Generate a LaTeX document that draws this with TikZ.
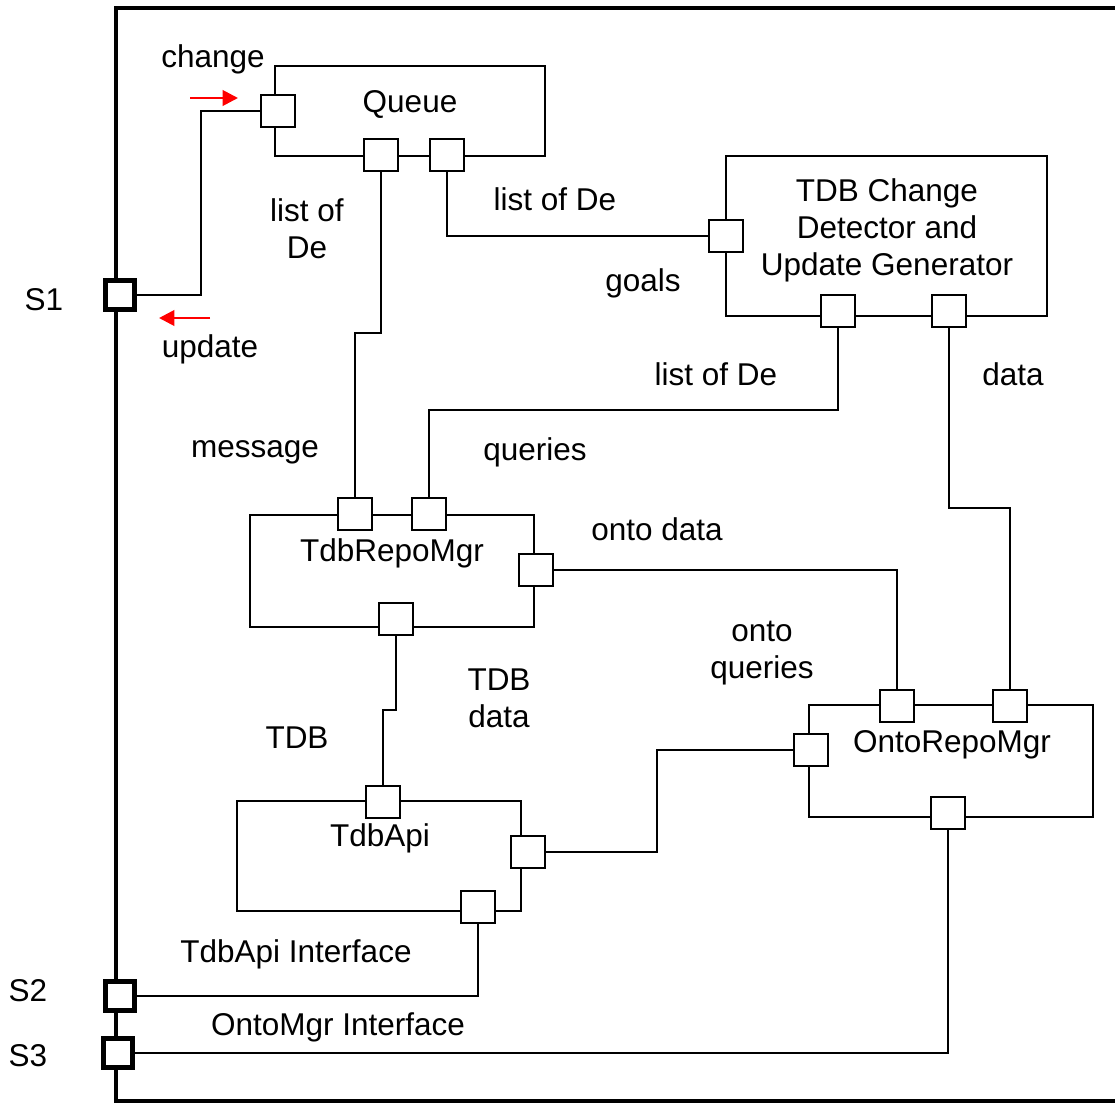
\documentclass[tikz,border=0pt]{standalone}
\usepackage{fontspec}
\setmainfont{Liberation Sans}
\usetikzlibrary{arrows.meta}

\tikzset{
  every node/.style={font=\fontsize{22.4}{26.3}\selectfont, align=center},
  lbl/.style={yshift=-1.8pt},
  wire/.style={line width=1.4pt},
  comp/.style={draw, line width=1.4pt, inner sep=0pt},
  port/.style={draw, fill=white, line width=1.4pt, inner sep=0pt, minimum width=0.85cm, minimum height=0.78cm},
  sport/.style={draw, fill=white, line width=3.4pt, inner sep=0pt, minimum size=0.72cm},
  flow/.style={red, line width=2pt, -{Triangle[length=11pt,width=11pt]}}
}

\begin{document}
\begin{tikzpicture}[x=0.025cm,y=-0.025cm]
		\useasboundingbox (0,0) rectangle (1115,1104);
		% outer frame
		\draw[line width=3.2pt](1115,8) -| (116,1101) -- (1115,1101);
		% components
		\node[comp, minimum width=6.75cm, minimum height=2.25cm](queue) at (410,111) {};
		\node[comp, minimum width=8.03cm, minimum height=4cm](detect) at (886.5,236) {};
		\node[comp, minimum width=7.1cm, minimum height=2.8cm](tdbrepo) at (392,571) {};
		\node[comp, minimum width=7.1cm, minimum height=2.75cm](tdbapi) at (379,856) {};
		\node[comp, minimum width=7.1cm, minimum height=2.8cm](ontorepo) at (951,761) {};
		\node[lbl](queuetxt) at (410,102) {Queue};
		\node[lbl](detecttxt) at (887,228) {TDB Change\\Detector and\\Update Generator};
		\node[lbl](tdbrepotxt) at (392,551) {TdbRepoMgr};
		\node[lbl](tdbapitxt) at (380,836) {TdbApi};
		\node[lbl](ontorepotxt) at (952,742) {OntoRepoMgr};
		% ports
		\node[port](qin) at (278,111) {};
		\node[port](qb1) at (381,155) {};
		\node[port](qb2) at (447,155) {};
		\node[port](din) at (726,236) {};
		\node[port](db1) at (838,311) {};
		\node[port](db2) at (949,311) {};
		\node[port](rt1) at (355,514) {};
		\node[port](rt2) at (429,514) {};
		\node[port](rr) at (536,570) {};
		\node[port](rb) at (396,619) {};
		\node[port](at) at (383,802) {};
		\node[port](ar) at (528,852) {};
		\node[port](ab) at (478,907) {};
		\node[port](ot1) at (897,706) {};
		\node[port](ot2) at (1010,706) {};
		\node[port](ol) at (811,750) {};
		\node[port](ob) at (948,813) {};
		\node[sport](s1) at (120,295) {};
		\node[sport](s2) at (120,996) {};
		\node[sport](s3) at (118,1053) {};
		% wires
		\draw[wire](s1.east) -- (201,295) |- (qin.west);
		\draw[wire](qb1.south) -- (381,333) -| (rt1.north);
		\draw[wire](qb2.south) |- (din.west);
		\draw[wire](db1.south) -- (838,410) -| (rt2.north);
		\draw[wire](db2.south) -- (949,508) -| (ot2.north);
		\draw[wire](rr.east) -| (ot1.north);
		\draw[wire](rb.south) -- (396,710) -| (at.north);
		\draw[wire](ar.east) -- (657,852) |- (ol.west);
		\draw[wire](ab.south) |- (s2.east);
		\draw[wire](ob.south) |- (s3.east);
		% red arrows
		\coordinate(chgA) at (190,98);
		\coordinate(chgB) at (238,98);
		\coordinate(updA) at (210,318);
		\coordinate(updB) at (159,318);
		\draw[flow](chgA) -- (chgB);
		\draw[flow](updA) -- (updB);
		% labels
		\node[lbl](chg) at (213,57) {change};
		\node[lbl](upd) at (210,347) {update};
		\node[lbl](s1txt) at (44,297) {S1};
		\node[lbl](s2txt) at (28,988) {S2};
		\node[lbl](s3txt) at (28,1053) {S3};
		\node[lbl](l1) at (307,226) {list of\\De};
		\node[lbl](l2) at (555,197) {list of De};
		\node[lbl](l3) at (643,281) {goals};
		\node[lbl](l4) at (716,372) {list of De};
		\node[lbl](l5) at (1013,372) {data};
		\node[lbl](l6) at (255,450) {message};
		\node[lbl](l7) at (535,450) {queries};
		\node[lbl](l8) at (657,527) {onto data};
		\node[lbl](l9) at (762,651) {onto\\queries};
		\node[lbl](l10) at (499,696) {TDB\\data};
		\node[lbl](l11) at (297,735) {TDB};
		\node[lbl](l12) at (296,952) {TdbApi Interface};
		\node[lbl](l13) at (338,1025) {OntoMgr Interface};
		\end{tikzpicture}
\end{document}
